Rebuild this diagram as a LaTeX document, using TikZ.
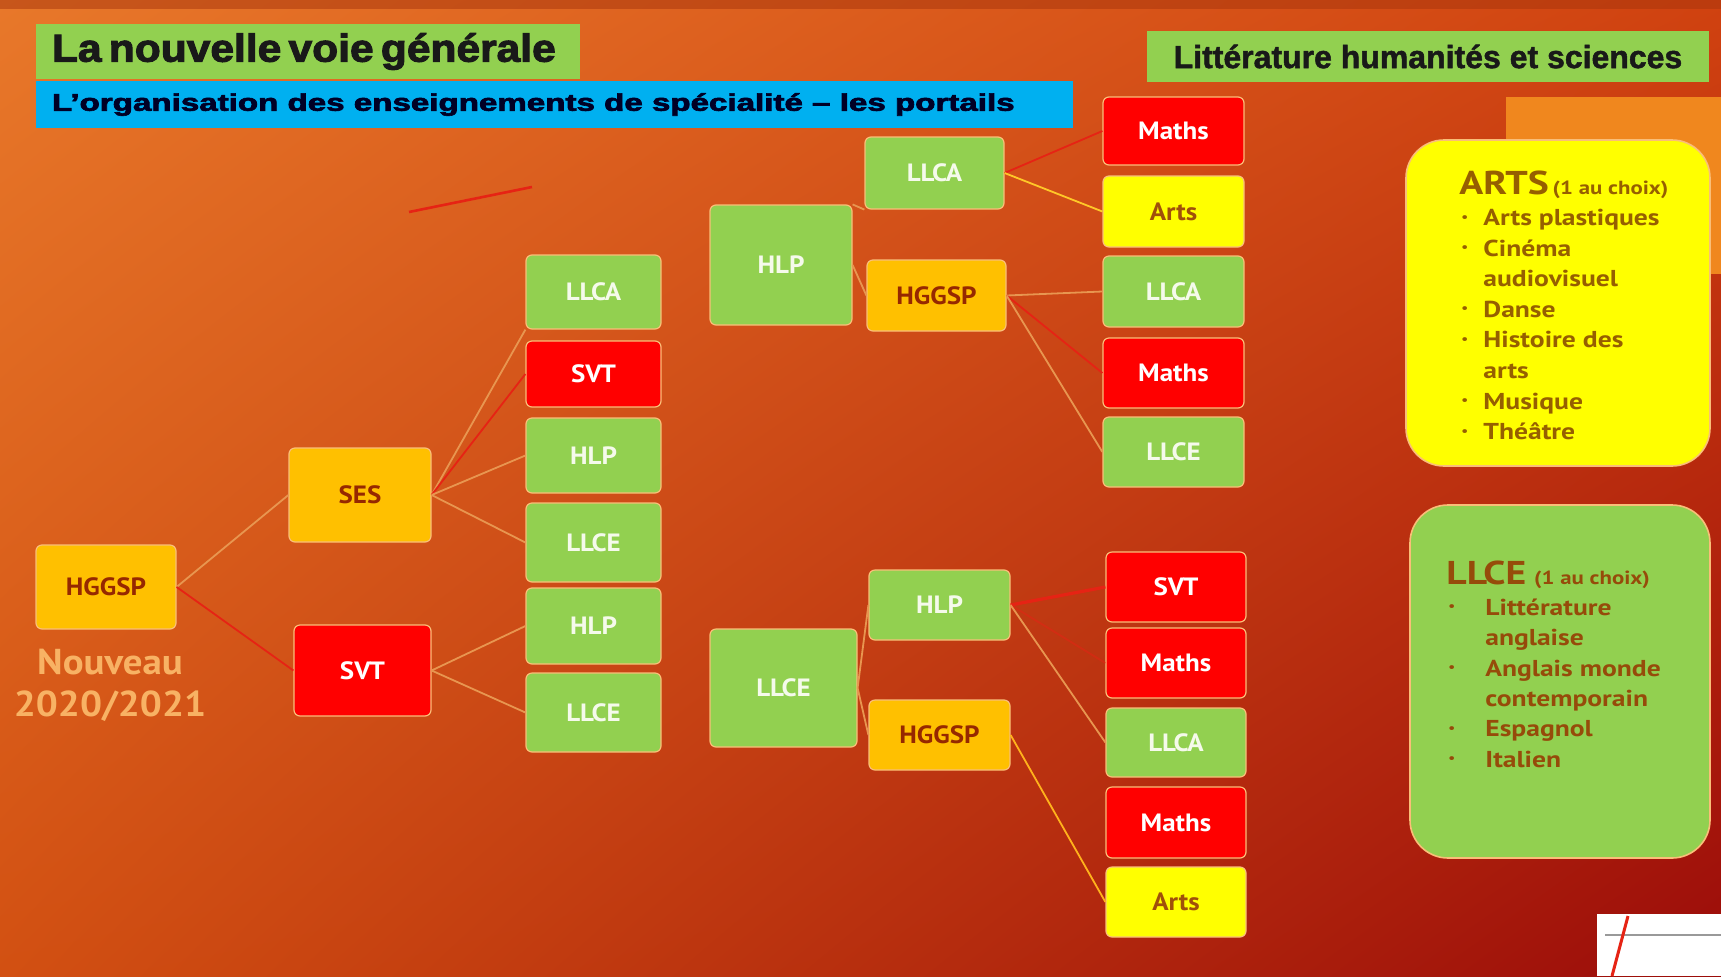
\documentclass[tikz,border=0pt]{standalone}
\usepackage{fontspec}
\usetikzlibrary{shadings}
\setmainfont{PT Sans}[FakeStretch=1.08]
\newfontfamily\infof[FakeStretch=1.2]{PT Sans}
\newfontfamily\arialf[FakeBold=1.5]{Liberation Sans}
\newfontfamily\blackf[FakeBold=2.5]{Liberation Sans}
\definecolor{pgreen}{RGB}{146,208,80}
\definecolor{pred}{RGB}{255,0,0}
\definecolor{porange}{RGB}{255,192,0}
\definecolor{pyellow}{RGB}{255,255,0}
\definecolor{pblue}{RGB}{0,176,240}
\definecolor{boxline}{RGB}{250,190,120}
\definecolor{otext}{RGB}{150,40,0}
\definecolor{ytext}{RGB}{160,80,10}
\definecolor{gtext}{RGB}{245,250,235}
\definecolor{artstext}{RGB}{150,95,0}
\definecolor{llcetext}{RGB}{150,75,10}
\definecolor{nouvtext}{RGB}{248,178,100}
\definecolor{tanline}{RGB}{232,150,80}
\definecolor{redline}{RGB}{230,35,20}
\definecolor{yline}{RGB}{255,200,40}
\definecolor{bgUL}{RGB}{232,120,42}
\definecolor{bgUR}{RGB}{208,66,16}
\definecolor{bgLL}{RGB}{210,80,18}
\definecolor{bgLR}{RGB}{155,12,10}
\definecolor{patch}{RGB}{240,135,30}
\tikzset{
  box/.style={rectangle, rounded corners=3pt, draw=boxline, line width=0.6pt,
    font=\bfseries\fontsize{12.5}{14}\selectfont, inner sep=0pt},
  gb/.style={box, fill=pgreen, text=gtext},
  rb/.style={box, fill=pred, text=white},
  ob/.style={box, fill=porange, text=otext},
  yb/.style={box, fill=pyellow, text=ytext},
  tline/.style={draw=tanline, line width=0.9pt},
  rline/.style={draw=redline, line width=0.9pt},
  yelline/.style={draw=yline, line width=0.9pt},
  infobox/.style={rectangle, rounded corners=19pt, draw=boxline, line width=0.8pt, inner sep=0pt},
}
\newcommand{\blt}{\hspace{1pt}\raisebox{2.2pt}{\scalebox{0.55}{\textbullet}}}
\begin{document}
\begin{tikzpicture}[x=0.5pt,y=-0.5pt]
\useasboundingbox (0,0) rectangle (1721,976);
% background
\shade[upper left=bgUL, upper right=bgUR, lower left=bgLL, lower right=bgLR] (0,0) rectangle (1721,976);
\fill[bgUR!80!black, opacity=0.5] (0,0) rectangle (1721,9);
% orange patch behind ARTS box
\fill[patch] (1506,97) rectangle (1721,274);

% titles
\node[fill=pgreen, minimum height=27.5pt, text width=256pt, align=left, inner xsep=8pt, inner ysep=0pt,
  text=black!90] (t1) at (308,51.5) {\scalebox{1.09}[1]{\blackf\bfseries\fontsize{19.5}{22}\selectfont La nouvelle voie générale}};
\node[fill=pblue, minimum height=23.5pt, text width=502.5pt, align=left, inner xsep=8pt, inner ysep=0pt,
  text=black!85!blue] (t2) at (554.5,104.5)
  {\scalebox{1.38}[1]{\blackf\bfseries\fontsize{12}{13}\selectfont L’organisation des enseignements de spécialité – les portails}};
\node[fill=pgreen, minimum width=281pt, minimum height=25.5pt, inner sep=0pt,
  font=\arialf\bfseries\fontsize{16}{18}\selectfont, text=black!90] (t3) at (1428,56.5) {Littérature humanités et sciences};

% level 0/1
\node[ob, minimum width=70pt, minimum height=42pt] (root) at (106,587) {HGGSP};
\node[align=center, text=nouvtext, font=\bfseries\fontsize{18}{21}\selectfont] (nouv) at (110,685) {Nouveau\\2020/2021};
\node[ob, minimum width=71pt, minimum height=47pt] (ses) at (360,495) {SES};
\node[rb, minimum width=68.5pt, minimum height=45.5pt] (svt) at (362.5,670.5) {SVT};

% column 3
\node[gb, minimum width=67.5pt, minimum height=37pt] (c1) at (593.5,292) {LLCA};
\node[rb, minimum width=67.5pt, minimum height=33pt] (c2) at (593.5,374) {SVT};
\node[gb, minimum width=67.5pt, minimum height=37.5pt] (c3) at (593.5,455.5) {HLP};
\node[gb, minimum width=67.5pt, minimum height=39.5pt] (c4) at (593.5,542.5) {LLCE};
\node[gb, minimum width=67.5pt, minimum height=38pt] (c5) at (593.5,626) {HLP};
\node[gb, minimum width=67.5pt, minimum height=39.5pt] (c6) at (593.5,712.5) {LLCE};

% upper tree
\node[gb, minimum width=71pt, minimum height=60pt] (hlp) at (781,265) {HLP};
\node[gb, minimum width=69.5pt, minimum height=36pt] (llca1) at (934.5,173) {LLCA};
\node[ob, minimum width=69.5pt, minimum height=35.5pt] (hg1) at (936.5,295.5) {HGGSP};
\node[rb, minimum width=70.5pt, minimum height=34pt] (m1) at (1173.5,131) {Maths};
\node[yb, minimum width=70.5pt, minimum height=35.5pt] (a1) at (1173.5,211.5) {Arts};
\node[gb, minimum width=70.5pt, minimum height=35.5pt] (l1) at (1173.5,291.5) {LLCA};
\node[rb, minimum width=70.5pt, minimum height=35pt] (m2) at (1173.5,373) {Maths};
\node[gb, minimum width=70.5pt, minimum height=35pt] (e1) at (1173.5,452) {LLCE};

% lower tree
\node[gb, minimum width=73.5pt, minimum height=59pt] (llce) at (783.5,688) {LLCE};
\node[gb, minimum width=70.5pt, minimum height=35pt] (hlp2) at (939.5,605) {HLP};
\node[ob, minimum width=70.5pt, minimum height=35pt] (hg2) at (939.5,735) {HGGSP};
\node[rb, minimum width=70pt, minimum height=35pt] (s3) at (1176,587) {SVT};
\node[rb, minimum width=70pt, minimum height=35pt] (m3) at (1176,663) {Maths};
\node[gb, minimum width=70pt, minimum height=34.5pt] (l3) at (1176,742.5) {LLCA};
\node[rb, minimum width=70pt, minimum height=35.5pt] (m4) at (1176,822.5) {Maths};
\node[yb, minimum width=70pt, minimum height=35pt] (a3) at (1176,902) {Arts};

% connectors
\path[tline] (root.east) -- (ses.west);
\path[rline] (root.east) -- (svt.west);
\path[tline] (ses.east) -- (c1.south west);
\path[rline] (ses.east) -- (c2.west);
\path[tline] (ses.east) -- (c3.west);
\path[tline] (ses.east) -- (c4.west);
\path[tline] (svt.east) -- (c5.west);
\path[tline] (svt.east) -- (c6.west);
\path[tline] (hlp.north east) -- (llca1.south west);
\path[tline] (hlp.east) -- (hg1.west);
\path[rline] (llca1.east) -- (m1.west);
\path[yelline] (llca1.east) -- (a1.west);
\path[tline] (hg1.east) -- (l1.west);
\path[rline] (hg1.east) -- (m2.west);
\path[tline] (hg1.east) -- (e1.west);
\path[tline] (llce.east) -- (hlp2.west);
\path[tline] (llce.east) -- (hg2.west);
\path[rline, line width=1.6pt] (hlp2.east) -- (s3.west);
\path[rline, opacity=0.5] (hlp2.east) -- (m3.west);
\path[tline] (hlp2.east) -- (l3.west);
\path[draw=yline!70!orange, line width=0.9pt] (hg2.east) -- (a3.west);
% stray line
\coordinate (s1) at (409,212);
\coordinate (s2) at (532,187);
\path[rline, line width=1.3pt] (s1) -- (s2);

% info boxes
\node[infobox, fill=pyellow, minimum width=152pt, minimum height=163pt] (artsbox) at (1558,303) {};
\node[anchor=north west, inner sep=0pt, text=artstext, font=\infof\bfseries\fontsize{11.5}{15.3}\selectfont] (artstxt) at (1459,171) {%
\begin{tabular}{@{}p{12pt}@{}l@{}}
\multicolumn{2}{@{}l@{}}{{\fontsize{16.5}{17}\selectfont ARTS}\hspace{2pt}{\fontsize{9.5}{10}\selectfont (1 au choix)}}\\[0pt]
\blt & Arts plastiques\\
\blt & Cinéma\\
 & audiovisuel\\
\blt & Danse\\
\blt & Histoire des\\
 & arts\\
\blt & Musique\\
\blt & Théâtre
\end{tabular}};

\node[infobox, fill=pgreen, minimum width=150pt, minimum height=176.5pt] (llcebox) at (1560,681.5) {};
\node[anchor=north west, inner sep=0pt, text=llcetext, font=\infof\bfseries\fontsize{11.5}{15.2}\selectfont] (llcetxt) at (1446,561) {%
\begin{tabular}{@{}p{19.5pt}@{}l@{}}
\multicolumn{2}{@{}l@{}}{{\fontsize{16.5}{17}\selectfont LLCE}\hspace{4pt}{\fontsize{9.5}{10}\selectfont (1 au choix)}}\\[0pt]
\blt & Littérature\\
 & anglaise\\
\blt & Anglais monde\\
 & contemporain\\
\blt & Espagnol\\
\blt & Italien
\end{tabular}};

% logo fragment bottom right
\fill[white] (1597,914) rectangle (1721,976);
\draw[black!40, line width=1.2pt] (1605,935) -- (1721,935);
\draw[redline, line width=1.5pt] (1612,976) -- (1628,916);
\end{tikzpicture}
\end{document}
